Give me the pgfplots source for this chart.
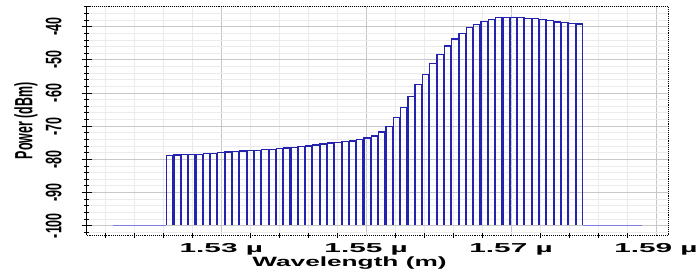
\documentclass[border=0pt]{standalone}
\usepackage{pgfplots}
\pgfplotsset{compat=1.18}
\usepackage{pgfplotstable}
\usepackage{fontspec}
\setmainfont{Liberation Sans}
\definecolor{barblue}{RGB}{35,35,175}
\definecolor{floorblue}{RGB}{125,125,225}

\pgfplotstableread{
x p
1522.90 -78.8
1523.91 -78.7
1524.92 -78.6
1525.93 -78.5
1526.94 -78.5
1527.95 -78.3
1528.95 -78.3
1529.96 -78.0
1530.97 -77.8
1531.98 -77.6
1532.99 -77.5
1534.00 -77.4
1535.01 -77.3
1536.02 -77.1
1537.03 -77.0
1538.04 -76.8
1539.04 -76.6
1540.05 -76.4
1541.06 -76.2
1542.07 -76.0
1543.08 -75.7
1544.09 -75.4
1545.10 -75.1
1546.11 -74.9
1547.12 -74.7
1548.13 -74.5
1549.13 -74.0
1550.14 -73.6
1551.15 -73.0
1552.16 -71.7
1553.17 -70.1
1554.18 -67.4
1555.19 -64.4
1556.20 -61.0
1557.21 -57.5
1558.22 -54.4
1559.22 -51.0
1560.23 -48.3
1561.24 -45.8
1562.25 -43.7
1563.26 -42.0
1564.27 -40.3
1565.28 -39.4
1566.29 -38.5
1567.30 -37.8
1568.31 -37.2
1569.31 -37.2
1570.32 -37.2
1571.33 -37.2
1572.34 -37.5
1573.35 -37.5
1574.36 -37.8
1575.37 -38.2
1576.38 -38.6
1577.39 -38.8
1578.40 -39.0
1579.40 -39.2
}\spec

\begin{document}
\begin{tikzpicture}
\begin{axis}[
  name=ax, at={(0,0)}, anchor=south west,
  scale only axis, width=581.3bp, height=229.3bp,
  xmin=1511.42, xmax=1591.66, ymin=-2.9, ymax=66.24,
  y filter/.expression={y+100},
  clip=false,
  axis x line*=bottom, axis y line*=left,
  x axis line style={-, black, densely dotted, line width=0.9bp},
  y axis line style={-, black, line width=1.6bp},
  xtick={1530,1550,1570,1590},
  xticklabels={1.53 µ,1.55 µ,1.57 µ,1.59 µ},
  minor xtick={1514,1518,1522,1526,1534,1538,1542,1546,1554,1558,1562,1566,1574,1578,1582,1586},
  ytick={0,10,20,30,40,50,60},
  yticklabels={-100,-90,-80,-70,-60,-50,-40},
  minor ytick={-2,2,4,6,8,12,14,16,18,22,24,26,28,32,34,36,38,42,44,46,48,52,54,56,58,62,64,66},
  extra y ticks={0,10,20,30,40,50,60},
  extra y tick labels={},
  extra y tick style={major tick length=10bp, grid=none},
  tick align=center,
  major tick length=0pt,
  minor tick length=5bp,
  every tick/.style={black, line width=0.9bp},
  grid=both,
  major grid style={draw=black!22, line width=0.9bp},
  minor grid style={draw=black!8, line width=0.9bp},
  xticklabel style={font=\bfseries\fontsize{13}{13}\selectfont, inner sep=0pt, anchor=north, yshift=-7.7bp, xscale=2.3},
  yticklabel style={font=\bfseries\fontsize{12.5}{12.5}\selectfont, inner sep=0pt, anchor=south, xshift=-24.7bp, xscale=1.8, rotate=90},
  xlabel={Wavelength (m)},
  ylabel={Power (dBm)},
  every axis x label/.style={at={(axis description cs:0.452,0)}, anchor=north, inner sep=0pt, yshift=-21.7bp, xscale=1.95, font=\bfseries\fontsize{13.5}{13.5}\selectfont},
  every axis y label/.style={at={(axis description cs:0,0.5)}, anchor=center, inner sep=0pt, xshift=-60.7bp, xscale=2.0, rotate=90, font=\bfseries\fontsize{12.5}{12.5}\selectfont},
]
\addplot[floorblue, line width=1.2bp] coordinates {(1515.05,-100) (1522.45,-100)};
\addplot[floorblue, line width=1.2bp] coordinates {(1579.85,-100) (1588.07,-100)};
\addplot[ybar, bar width=0.9, bar shift=0pt, draw=barblue, fill=none, line width=1.35bp] table[x=x,y=p] {\spec};
\addplot[black!22, line width=1.5bp] coordinates {(1522.4,-100) (1579.9,-100)};
\draw[black, densely dotted, line width=0.9bp] (rel axis cs:0,1) -- (rel axis cs:1,1) -- (rel axis cs:1,0);
\end{axis}
\pgfresetboundingbox
\path (-86.7bp,-35.7bp) rectangle (611.3bp,235.3bp);
\end{tikzpicture}
\end{document}
